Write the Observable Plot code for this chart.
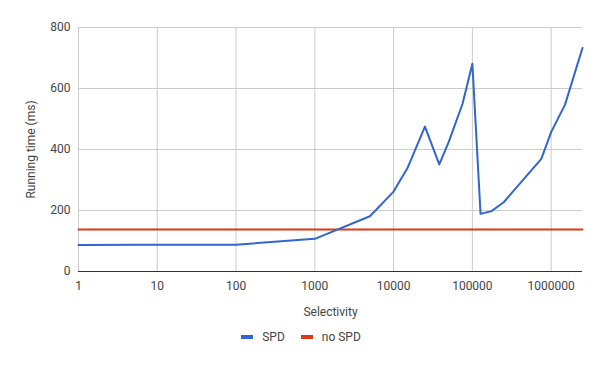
<!DOCTYPE html>
<html>
<head>
<meta charset="utf-8">
<script src="https://cdn.jsdelivr.net/npm/d3@7"></script>
<script src="https://cdn.jsdelivr.net/npm/@observablehq/plot@0.6"></script>
<style>
  html, body { margin: 0; padding: 0; background: #fff; }
  body { width: 600px; height: 371px; overflow: hidden; font-family: Roboto, sans-serif; }
  #legend { display: flex; justify-content: center; align-items: center; gap: 0; font-size: 12px; color: #444; margin-top: 2px; padding-left: 2px; }
  .item { display: flex; align-items: center; margin: 0 8px; }
  .sw { width: 12px; height: 4px; margin-right: 9px; display: inline-block; }
</style>
</head>
<body>
<div id="chart"></div>
<div id="legend"></div>
<script>
const selectivity = [1, 6, 35, 100, 1000, 5000, 10000, 15000, 25000, 38000, 50000, 75000, 100000, 127000, 175000, 250000, 750000, 1000000, 1500000, 2500000];
const spdTime = [87, 88, 88, 88, 107, 181, 262, 339, 475, 351, 424, 550, 681, 189, 198, 227, 369, 457, 547, 733];
const noSpdSelectivity = [1, 2500000];
const noSpdTime = [138, 138];
const xTicks = [1, 10, 100, 1000, 10000, 100000, 1000000];
const yTicks = [0, 200, 400, 600, 800];
const seriesNames = ["SPD", "no SPD"];
const seriesColors = ["#3366cc", "#dc3912"];

const spd = selectivity.map((s, i) => ({s, t: spdTime[i]}));
const nospd = noSpdSelectivity.map((s, i) => ({s, t: noSpdTime[i]}));

const chart = Plot.plot({
  width: 600,
  height: 328,
  marginLeft: 78,
  marginRight: 18,
  marginTop: 27,
  marginBottom: 57,
  style: { fontFamily: "Roboto, sans-serif", fontSize: "12px", color: "#444", background: "#fff" },
  x: { type: "log", domain: [1, 2500000] },
  y: { domain: [0, 800] },
  marks: [
    Plot.gridX(xTicks, { stroke: "#ccc", strokeOpacity: 1 }),
    Plot.gridY(yTicks, { stroke: "#ccc", strokeOpacity: 1 }),
    Plot.axisX(xTicks, { tickSize: 0, tickPadding: 10, tickFormat: d => String(d), fill: "#444",
      label: "Selectivity", labelAnchor: "center", labelArrow: "none", labelOffset: 44, fontSize: 12 }),
    Plot.axisY(yTicks, { tickSize: 0, tickPadding: 8, fill: "#444",
      label: "Running time (ms)", labelAnchor: "center", labelArrow: "none", labelOffset: 52, fontSize: 12 }),
    Plot.ruleY([0], { stroke: "#333", strokeWidth: 1 }),
    Plot.line(nospd, { x: "s", y: "t", stroke: seriesColors[1], strokeWidth: 2 }),
    Plot.line(spd, { x: "s", y: "t", stroke: seriesColors[0], strokeWidth: 2 })
  ]
});
document.getElementById("chart").appendChild(chart);

const legend = document.getElementById("legend");
seriesNames.forEach((n, i) => {
  const it = document.createElement("div");
  it.className = "item";
  it.innerHTML = `<span class="sw" style="background:${seriesColors[i]}"></span><span>${n}</span>`;
  legend.appendChild(it);
});
</script>
</body>
</html>
